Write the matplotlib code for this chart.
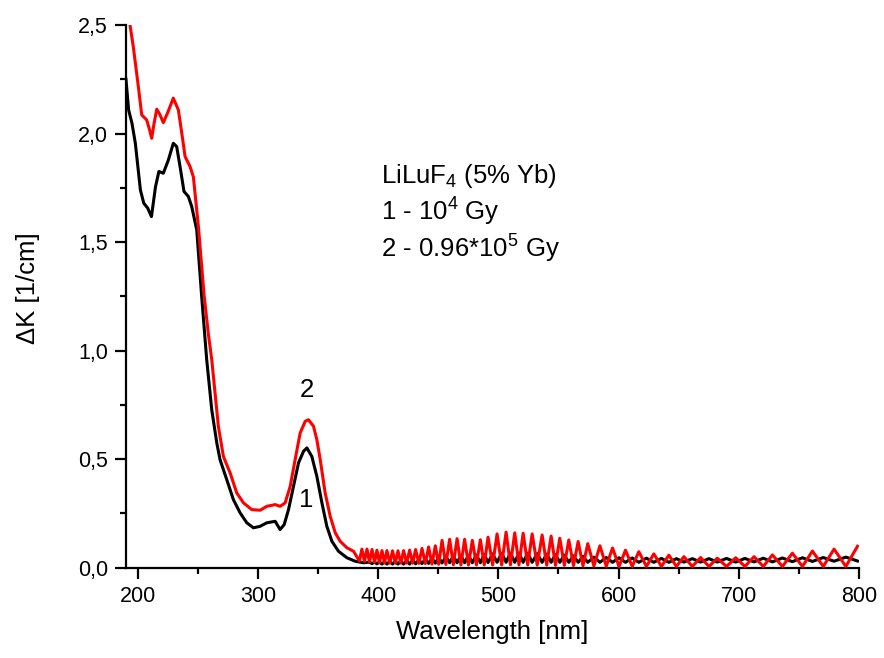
import numpy as np
import matplotlib
matplotlib.use("Agg")
import matplotlib.pyplot as plt
from matplotlib.ticker import MultipleLocator, FuncFormatter

plt.rcParams["font.family"] = ["Liberation Sans", "DejaVu Sans"]
plt.rcParams["mathtext.fontset"] = "custom"
plt.rcParams["mathtext.rm"] = "Liberation Sans"
plt.rcParams["mathtext.it"] = "Liberation Sans:italic"

# smooth part of the spectra (nm, 1/cm)
red_nm = [192.0, 196.1, 200.3, 203.1, 207.2, 209.5, 211.4, 213.5, 215.6, 218.0, 221.1, 225.0,
          229.4, 233.6, 236.5, 239.2, 243.3, 246.1, 250.3, 255.0, 258.5, 261.4, 264.2, 266.9,
          271.1, 276.7, 282.2, 287.8, 294.7, 301.7, 307.2, 314.2, 318.3, 322.5, 326.7, 330.8,
          335.0, 339.2, 341.9, 346.1, 348.9, 351.7, 355.8, 360.0, 364.2, 368.3, 373.9, 379.4]
red_k = [2.55, 2.40, 2.216, 2.086, 2.063, 2.02, 1.978, 2.05, 2.112, 2.09, 2.05, 2.10,
         2.163, 2.109, 2.00, 1.894, 1.848, 1.80, 1.571, 1.257, 1.08, 0.958, 0.804, 0.651,
         0.512, 0.436, 0.344, 0.298, 0.267, 0.264, 0.282, 0.29, 0.282, 0.298, 0.374, 0.497,
         0.62, 0.674, 0.681, 0.651, 0.589, 0.497, 0.344, 0.236, 0.16, 0.121, 0.091, 0.075]

black_nm = [190.0, 192.2, 195.0, 197.8, 202.0, 204.8, 208.1, 211.2, 214.6, 217.4, 221.1, 225.3,
            229.4, 232.2, 235.0, 238.3, 241.9, 244.7, 248.9, 253.0, 257.2, 261.4, 265.6, 268.3,
            273.9, 279.4, 285.0, 290.6, 296.1, 301.7, 307.2, 314.2, 318.3, 321.7, 325.3, 329.4,
            333.6, 337.8, 340.6, 344.7, 348.9, 353.1, 357.2, 361.4, 366.9, 373.9, 380.8, 387.8]
black_k = [2.25, 2.109, 2.047, 1.955, 1.74, 1.679, 1.656, 1.617, 1.755, 1.825, 1.817, 1.878,
           1.955, 1.94, 1.848, 1.733, 1.71, 1.664, 1.556, 1.25, 0.958, 0.727, 0.574, 0.497,
           0.405, 0.313, 0.252, 0.206, 0.183, 0.19, 0.206, 0.213, 0.175, 0.198, 0.267, 0.374,
           0.482, 0.536, 0.551, 0.512, 0.42, 0.298, 0.19, 0.121, 0.075, 0.045, 0.029, 0.022]

# interference fringes: maxima and minima of curve 2
fringe_max_nm = [386.4, 390.6, 394.8, 398.9, 403.1, 407.2, 411.9, 416.4, 421.1, 426.1, 431.1, 436.4,
                 441.9, 447.5, 453.1, 459.4, 465.6, 471.9, 478.3, 485.0, 491.4, 498.9, 506.4, 513.6,
                 520.6, 528.1, 536.4, 543.9, 551.1, 558.6, 566.4, 574.4, 584.5, 595.0, 605.8, 616.9,
                 629.4, 641.9, 654.4, 668.3, 682.2, 697.5, 712.8, 728.1, 744.7, 761.4, 779.4, 798.9]
red_max_k = [0.085, 0.085, 0.083, 0.08, 0.078, 0.078, 0.077, 0.077, 0.078, 0.08, 0.083, 0.088,
             0.095, 0.10, 0.125, 0.13, 0.133, 0.13, 0.125, 0.128, 0.14, 0.155, 0.163, 0.16,
             0.158, 0.155, 0.15, 0.145, 0.135, 0.127, 0.12, 0.11, 0.10, 0.09, 0.08, 0.073,
             0.063, 0.057, 0.05, 0.046, 0.043, 0.045, 0.05, 0.058, 0.066, 0.076, 0.085, 0.098]
fringe_min_nm = [384.3, 388.5, 392.7, 396.9, 401.0, 405.2, 409.6, 414.2, 418.8, 423.6, 428.6, 433.8,
                 439.2, 444.7, 450.3, 456.3, 462.5, 468.8, 475.1, 481.7, 488.2, 495.2, 502.7, 510.0,
                 517.1, 524.4, 532.3, 540.2, 547.5, 554.9, 562.5, 570.4, 579.5, 589.8, 600.4, 611.4,
                 623.2, 635.7, 648.2, 661.4, 675.3, 689.9, 705.2, 720.5, 736.4, 753.1, 770.4, 789.2]
red_min_k = [0.03, 0.028, 0.026, 0.024, 0.022, 0.021, 0.02, 0.02, 0.02, 0.02, 0.02, 0.019,
             0.018, 0.016, 0.015, 0.014, 0.013, 0.012, 0.012, 0.012, 0.012, 0.012, 0.012, 0.012,
             0.012, 0.012, 0.011, 0.011, 0.01, 0.01, 0.009, 0.008, 0.007, 0.006, 0.005, 0.005,
             0.005, 0.005, 0.005, 0.005, 0.005, 0.005, 0.005, 0.005, 0.005, 0.005, 0.005, 0.005]

# curve 1 fringes (opposite phase, from 392 nm on)
black_max_k = [0.025, 0.025, 0.026, 0.027, 0.028, 0.029, 0.03, 0.032, 0.034, 0.036, 0.039, 0.042,
               0.046, 0.05, 0.053, 0.055, 0.056, 0.058, 0.06, 0.063, 0.066, 0.067, 0.067, 0.066,
               0.064, 0.062, 0.06, 0.057, 0.054, 0.051, 0.048, 0.046, 0.045, 0.044, 0.043, 0.042,
               0.041, 0.041, 0.041, 0.042, 0.042, 0.043, 0.044, 0.045, 0.046, 0.048]
black_min_k = [0.018, 0.017, 0.016, 0.016, 0.016, 0.016, 0.016, 0.016, 0.017, 0.018, 0.019, 0.02,
               0.021, 0.022, 0.022, 0.022, 0.022, 0.022, 0.023, 0.024, 0.024, 0.024, 0.024, 0.024,
               0.024, 0.024, 0.024, 0.024, 0.024, 0.024, 0.024, 0.024, 0.024, 0.024, 0.024, 0.024,
               0.025, 0.025, 0.025, 0.025, 0.026, 0.026, 0.027, 0.028, 0.029, 0.03]

x_ticks = [200, 300, 400, 500, 600, 700, 800]


def join(smooth_x, smooth_y, ax_, ay_, bx_, by_):
    fx = np.concatenate([ax_, bx_])
    fy = np.concatenate([ay_, by_])
    order = np.argsort(fx)
    return (np.concatenate([smooth_x, fx[order]]),
            np.concatenate([smooth_y, fy[order]]))


rx, ry = join(red_nm, red_k, fringe_max_nm, red_max_k, fringe_min_nm, red_min_k)
bx, by = join(black_nm, black_k, fringe_min_nm[2:], black_max_k, fringe_max_nm[2:], black_min_k)

fig = plt.figure(figsize=(8.84, 6.58), dpi=100)
ax = fig.add_axes([0.1425, 0.1375, 0.829, 0.8245])

ax.plot(bx, by, color="black", lw=2.2, zorder=3)
ax.plot(rx, ry, color="#ff0000", lw=2.2, zorder=4)

ax.set_xlim(190, 800)
ax.set_ylim(0, 2.5)
ax.set_xticks(x_ticks)
ax.xaxis.set_minor_locator(MultipleLocator(50))
ax.yaxis.set_major_locator(MultipleLocator(0.5))
ax.yaxis.set_minor_locator(MultipleLocator(0.25))
ax.yaxis.set_major_formatter(FuncFormatter(lambda v, p: f"{v:.1f}".replace(".", ",")))

for s in ["top", "right"]:
    ax.spines[s].set_visible(False)
for s in ["left", "bottom"]:
    ax.spines[s].set_linewidth(1.6)
ax.tick_params(which="major", direction="out", length=8, width=1.6, labelsize=15.5, pad=5)
ax.tick_params(which="minor", direction="out", length=4, width=1.6)

ax.set_xlabel("Wavelength [nm]", fontsize=18.5)
ax.set_ylabel("ΔK [1/cm]", fontsize=18.5)
ax.xaxis.set_label_coords(0.5, -0.097)
ax.yaxis.set_label_coords(-0.117, 0.515)

ax.text(402, 1.771, "LiLuF$_4$ (5% Yb)", fontsize=18.5, va="baseline")
ax.text(402, 1.599, "1 - 10$^4$ Gy", fontsize=18.5, va="baseline")
ax.text(402, 1.426, "2 - 0.96*10$^5$ Gy", fontsize=18.5, va="baseline")
ax.text(340.5, 0.817, "2", fontsize=18.5, ha="center", va="center")
ax.text(340, 0.313, "1", fontsize=18.5, ha="center", va="center")

fig.savefig("out.png", dpi=100)
